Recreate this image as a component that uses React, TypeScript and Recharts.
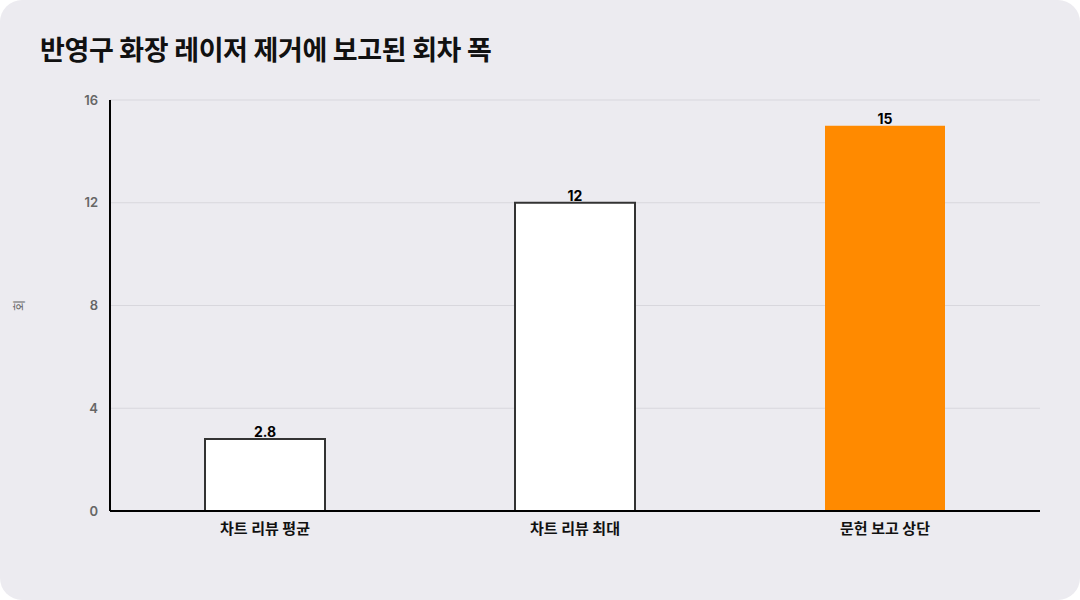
import { Bar, BarChart, CartesianGrid, Cell, LabelList, XAxis, YAxis } from "recharts";

const categories = ["차트 리뷰 평균", "차트 리뷰 최대", "문헌 보고 상단"];
const counts = [2.8, 12, 15];
const fills = ["#FFFFFF", "#FFFFFF", "#FF8A00"];
const strokes = ["#333333", "#333333", "none"];
const yTicks = [0, 4, 8, 12, 16];

const data = categories.map((name, i) => ({ name, value: counts[i] }));

const font = "Inter, 'Noto Sans CJK KR', sans-serif";

export default function App() {
  return (
    <div
      style={{
        position: "absolute",
        left: 0,
        top: 0,
        width: 1080,
        height: 600,
        background: "#FFFFFF",
        fontFamily: font,
      }}
    >
      <div
        style={{
          position: "absolute",
          inset: 0,
          background: "#ECEBF0",
          borderRadius: 22,
        }}
      />
      <div
        style={{
          position: "absolute",
          left: 40,
          top: 29,
          fontSize: 27,
          fontWeight: 700,
          color: "#111111",
          letterSpacing: -0.4,
        }}
      >
        반영구 화장 레이저 제거에 보고된 회차 폭
      </div>
      <div style={{ position: "absolute", left: 0, top: 0 }}>
        <BarChart
          width={1080}
          height={600}
          data={data}
          margin={{ top: 100, right: 40, bottom: 59, left: 0 }}
          barSize={120}
        >
          <CartesianGrid vertical={false} stroke="#D8D7DD" strokeWidth={1} />
          <XAxis
            dataKey="name"
            axisLine={{ stroke: "#000000", strokeWidth: 2 }}
            tickLine={false}
            tickSize={8}
            tickMargin={4}
            tick={{ fill: "#111111", fontSize: 15, fontWeight: 700, fontFamily: font }}
          />
          <YAxis
            width={110}
            domain={[0, 16]}
            ticks={yTicks}
            axisLine={{ stroke: "#000000", strokeWidth: 2 }}
            tickLine={false}
            tickSize={10}
            tickMargin={2}
            tick={{ fill: "#666666", fontSize: 13, fontWeight: 600, fontFamily: font }}
            label={{
              value: "회",
              angle: -90,
              position: "insideLeft",
              offset: 20,
              style: { textAnchor: "middle", fill: "#666666", fontSize: 12, fontFamily: font },
            }}
          />
          <Bar dataKey="value" isAnimationActive={false}>
            {data.map((d, i) => (
              <Cell key={d.name} fill={fills[i]} stroke={strokes[i]} strokeWidth={2} />
            ))}
            <LabelList
              dataKey="value"
              position="top"
              offset={2}
              style={{ fill: "#000000", fontSize: 14, fontWeight: 700, fontFamily: font }}
            />
          </Bar>
        </BarChart>
      </div>
    </div>
  );
}
